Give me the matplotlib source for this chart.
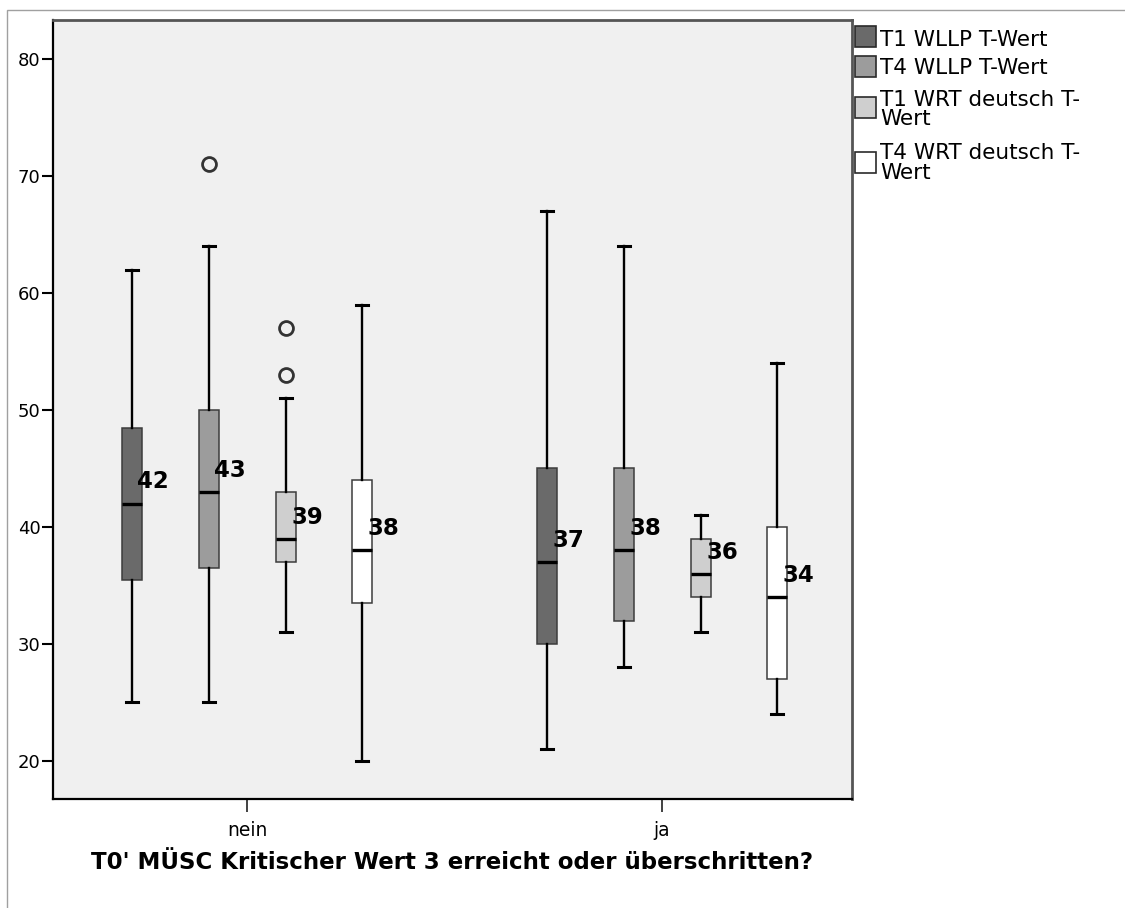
import matplotlib
matplotlib.use('Agg')
import matplotlib.pyplot as plt
from matplotlib.patches import Rectangle

plt.rcParams['font.family'] = ['DejaVu Sans']

# groups on the x axis and the four measures inside each group
groups = ['nein', 'ja']
series = ['T1 WLLP T-Wert', 'T4 WLLP T-Wert', 'T1 WRT deutsch T-\nWert', 'T4 WRT deutsch T-\nWert']
colors = ['#6a6a6a', '#9c9c9c', '#cfcfcf', '#ffffff']

# box statistics, [nein, ja] per series
medians = [[42, 37], [43, 38], [39, 36], [38, 34]]
q1 = [[35.5, 30], [36.5, 32], [37, 34], [33.5, 27]]
q3 = [[48.5, 45], [50, 45], [43, 39], [44, 40]]
whis_lo = [[25, 21], [25, 28], [31, 31], [20, 24]]
whis_hi = [[62, 67], [64, 64], [51, 41], [59, 54]]
outliers = [[[], []], [[71], []], [[57, 53], []], [[], []]]

fig = plt.figure(figsize=(11.25, 9.08), dpi=100)

# outer frame of the chart
fig.patches.append(Rectangle((7/1125., -0.1), 1.2, 1.1 - 10/908., transform=fig.transFigure,
                             fill=False, edgecolor='#a0a0a0', lw=1.0))

ax = fig.add_axes([53/1125., 1 - 799/908., 799/1125., 779/908.])
ax.set_facecolor('#f0f0f0')

offsets = [-0.2771, -0.0916, 0.0940, 0.2771]
box_w = 0.049

for s in range(len(series)):
    stats = []
    pos = []
    for g in range(len(groups)):
        stats.append(dict(med=medians[s][g], q1=q1[s][g], q3=q3[s][g],
                          whislo=whis_lo[s][g], whishi=whis_hi[s][g],
                          fliers=outliers[s][g]))
        pos.append(g + offsets[s])
    ax.bxp(stats, positions=pos, widths=box_w, capwidths=0.029, patch_artist=True,
           showfliers=True,
           boxprops=dict(facecolor=colors[s], edgecolor='#3c3c3c', lw=1.1),
           medianprops=dict(color='black', lw=2.4, solid_capstyle='butt'),
           whiskerprops=dict(color='black', lw=1.7),
           capprops=dict(color='black', lw=2.2),
           flierprops=dict(marker='o', markersize=10, markerfacecolor='none',
                           markeredgecolor='#333333', markeredgewidth=2))
    # median labels
    for g in range(len(groups)):
        ax.text(g + offsets[s] + 0.013, medians[s][g] + 1.85, str(medians[s][g]),
                fontsize=16.5, fontweight='bold', ha='left', va='center', color='black')

ax.set_xlim(-0.4675, 1.458)
ax.set_ylim(16.75, 83.33)
ax.set_yticks([20, 30, 40, 50, 60, 70, 80])
ax.set_xticks([0, 1])
ax.set_xticklabels(groups)
ax.tick_params(axis='y', length=8, width=1.5, pad=1, labelsize=13, color='black')
ax.tick_params(axis='x', length=9, width=1.3, pad=7, labelsize=13.5, color='#333333')

for side in ['left', 'bottom']:
    ax.spines[side].set_color('black')
    ax.spines[side].set_linewidth(1.6)
for side in ['top', 'right']:
    ax.spines[side].set_color('#555555')
    ax.spines[side].set_linewidth(2.0)

ax.set_xlabel("T0' MÜSC Kritischer Wert 3 erreicht oder überschritten?",
              fontsize=16.5, fontweight='bold', va='center')
ax.xaxis.set_label_coords(0.5, -0.081)

# legend drawn next to the plot area
patch_y = [36, 66, 107, 162]
text_y = [40, 68, 109.5, 163]
for i in range(len(series)):
    y = 1 - patch_y[i] / 908.
    fig.patches.append(Rectangle((855/1125., y - 11/908.), 21/1125., 21/908.,
                                 transform=fig.transFigure, facecolor=colors[i],
                                 edgecolor='#2a2a2a', lw=1.2))
    fig.text(880/1125., 1 - text_y[i] / 908., series[i],
             fontsize=15.5, ha='left', va='center', linespacing=0.95)

fig.savefig('out.png', dpi=100)
